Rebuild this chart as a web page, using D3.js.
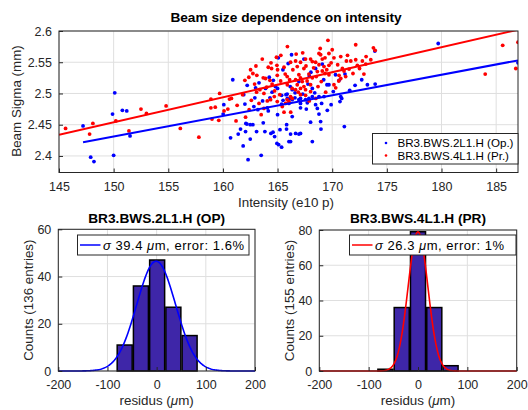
<!DOCTYPE html>
<html><head><meta charset="utf-8">
<script src="https://cdn.jsdelivr.net/npm/d3@7"></script>
<style>
html,body{margin:0;padding:0;background:#fff;}
svg{display:block;font-family:"Liberation Sans",Arial,Helvetica,sans-serif;}
</style></head>
<body><svg id="c" width="528" height="410"></svg>
<script>
// ---------- DATA ----------
const bluePoints = [
[147.2,2.448],[147.9,2.398],[148.2,2.391],[149.9,2.467],[150.1,2.501],[150.0,2.401],[150.8,2.473],[151.2,2.472],[151.5,2.432],
[160.9,2.522],[160.7,2.429],[161.85,2.416],[162.3,2.394],[161.4,2.435],[162.2,2.451],[162.5,2.427],[163.5,2.401],
[165.07,2.557],[165.49,2.538],[162.22,2.513],[162.99,2.509],[164.24,2.526],[164.61,2.521],[163.9,2.508],[165.0,2.508],
[164.5,2.502],[165.37,2.497],[165.89,2.492],[165.77,2.498],[162.92,2.493],[163.63,2.488],[162.83,2.479],[162.01,2.483],
[160.08,2.482],[160.02,2.467],[164.15,2.472],[164.06,2.477],[165.37,2.483],[162.1,2.452],[162.5,2.450],[162.74,2.450],
[163.69,2.453],[161.61,2.443],[163.08,2.439],[163.84,2.439],[162.07,2.439],[164.39,2.436],[164.58,2.438],[164.73,2.431],
[165.22,2.442],[165.83,2.450],[164.94,2.420],[165.1,2.418],[165.37,2.414],[166.04,2.423],
[166.28,2.562],[167.41,2.555],[165.97,2.548],[173.9,2.568],[169.09,2.547],[168.05,2.534],[168.48,2.540],[169.22,2.522],
[169.52,2.514],[169.7,2.514],[171.17,2.531],[172.7,2.522],[173.22,2.514],[173.93,2.515],[172.09,2.513],[170.62,2.521],
[170.78,2.495],[170.87,2.492],[170.71,2.487],[166.16,2.511],[166.95,2.519],[168.18,2.508],[167.78,2.515],[166.34,2.506],
[165.88,2.499],[166.19,2.492],[166.59,2.493],[166.95,2.490],[167.1,2.492],[167.56,2.490],[167.87,2.492],[168.18,2.495],
[168.79,2.495],[169.25,2.495],[166.34,2.490],[166.04,2.484],[167.1,2.484],[167.72,2.485],[168.48,2.482],[168.64,2.476],
[169.03,2.484],[167.63,2.475],[167.1,2.477],[169.55,2.473],[168.79,2.467],[166.34,2.463],[168.02,2.454],[168.94,2.455],
[168.97,2.443],[171.11,2.447],[165.82,2.443],[166.19,2.435],[166.65,2.436],[166.95,2.435],[167.1,2.436],[168.18,2.423],
[166.19,2.423],[179.7,2.580],[187.0,2.549],[163.3,2.517],[164.8,2.511],[166.6,2.501],[167.3,2.499],[165.5,2.489],
[164.3,2.493],[163.2,2.474],[165.0,2.466],[161.9,2.498],[167.9,2.528],[170.1,2.503],[169.9,2.482],[168.4,2.501],
[171.6,2.505],[170.3,2.530]
];
const redPoints = [
[145.6,2.444],[147.8,2.435],[148.1,2.452],[150.2,2.456],[151.4,2.440],[152.5,2.475],[153.0,2.468],[154.8,2.480],
[156.1,2.444],[157.8,2.430],[158.9,2.491],[158.9,2.477],[159.3,2.478],[159.7,2.500],[160.1,2.472],[160.6,2.491],
[162.53,2.538],[163.02,2.544],[162.74,2.532],[162.37,2.526],[162.01,2.521],[164.15,2.542],[164.45,2.540],[164.94,2.545],
[165.0,2.538],[165.59,2.542],[163.69,2.525],[163.9,2.524],[164.3,2.521],[164.5,2.515],[164.97,2.529],[165.28,2.520],
[165.89,2.514],[163.38,2.506],[163.08,2.502],[163.75,2.500],[164.73,2.504],[164.06,2.488],[164.36,2.490],[164.97,2.487],
[165.43,2.479],[165.59,2.470],[163.5,2.466],[162.07,2.462],[163.75,2.476],[160.78,2.492],[160.45,2.475],[159.0,2.459],
[159.62,2.457],
[169.61,2.585],[172.15,2.578],[173.77,2.573],[173.93,2.569],[168.79,2.564],[168.94,2.562],[169.7,2.564],[168.18,2.551],
[168.48,2.550],[169.09,2.555],[169.34,2.557],[170.16,2.557],[170.78,2.559],[166.65,2.552],[167.1,2.550],[167.56,2.555],
[168.02,2.555],[166.19,2.550],[171.3,2.552],[171.7,2.552],[172.15,2.554],[172.76,2.552],[173.53,2.554],[168.79,2.546],
[169.25,2.543],[169.7,2.545],[166.8,2.543],[167.41,2.540],[168.64,2.535],[169.09,2.536],[169.34,2.532],[169.7,2.530],
[170.93,2.540],[171.08,2.536],[171.54,2.539],[172.3,2.545],[173.07,2.547],[167.87,2.531],[168.18,2.525],[168.54,2.527],
[166.95,2.530],[167.1,2.525],[166.65,2.522],[167.26,2.519],[165.88,2.527],[166.1,2.522],[170.62,2.529],[170.78,2.524],
[171.23,2.527],[170.16,2.514],[170.32,2.509],[166.8,2.514],[167.1,2.508],[167.41,2.511],[166.34,2.508],[166.65,2.506],
[168.02,2.514],[167.56,2.506],[168.02,2.503],[167.1,2.498],[169.4,2.502],[166.19,2.495],[166.34,2.492],[165.88,2.490],
[166.04,2.487],[165.73,2.484],[167.56,2.497],[185.6,2.577],[187.0,2.582],[184.0,2.531],[186.8,2.540],
[163.6,2.555],[164.4,2.549],[165.3,2.561],[162.9,2.515],[164.0,2.510],[165.7,2.531],[166.4,2.538],[167.6,2.544],
[168.3,2.541],[169.9,2.549],[170.5,2.546],[171.9,2.532],[169.0,2.519],[168.7,2.511],[167.7,2.520],[166.9,2.502],
[165.2,2.498],[164.7,2.495],[163.3,2.484],[162.6,2.489],[161.8,2.498],[161.3,2.481],[171.4,2.561],[170.0,2.570],
[167.3,2.565],[165.9,2.575],[166.7,2.563],[168.9,2.572],[164.9,2.558],[163.1,2.529],[169.5,2.538],[170.6,2.520],
[172.5,2.540],[173.1,2.559],[172.9,2.531],[166.2,2.470],[167.9,2.488],[162.4,2.474],[161.2,2.456],[168.5,2.492]
];
const blueFit = [[147.2,2.422],[187.0,2.553]];
const redFit = [[145.0,2.434],[187.0,2.602]];
const scatterXTicks = [145,150,155,160,165,170,175,180,185];
const scatterYTicks = [2.4,2.45,2.5,2.55,2.6];
const seriesNames = ["BR3.BWS.2L1.H (Op.)","BR3.BWS.4L1.H (Pr.)"];

const histLeftCenters = [-65,-32,1,34,67];
const histLeftCounts = [11,36,47,27,15];
const histRightCenters = [-66,-33,0,33,66];
const histRightCounts = [1,36,79,36,3];
const histXTicks = [-200,-100,0,100,200];
const histLeftYTicks = [0,20,40,60];
const histRightYTicks = [0,20,40,60,80];
const gaussLeft = {amp:46.5, mu:-1, sigma:39.4};
const gaussRight = {amp:79, mu:0, sigma:20};

// ---------- STYLE ----------
const AX = "#262626", GRID = "#dfdfdf", BAR = "rgb(62,38,168)";
const TICK_FS = "12.5px", LABEL_FS = "13.4px", TITLE_FS = "13.7px";
const svg = d3.select("#c");

function frame(g, x, y, xt, yt){
  const [x0,x1] = x.range(), [y0,y1] = y.range();
  g.append("g").selectAll("line").data(xt).join("line")
    .attr("x1",d=>x(d)).attr("x2",d=>x(d)).attr("y1",y1).attr("y2",y0)
    .attr("stroke",GRID).attr("stroke-width",1);
  g.append("g").selectAll("line").data(yt).join("line")
    .attr("y1",d=>y(d)).attr("y2",d=>y(d)).attr("x1",x0).attr("x2",x1)
    .attr("stroke",GRID).attr("stroke-width",1);
}
function axesOver(g, x, y, xt, yt, xfmt, yfmt){
  const [x0,x1] = x.range(), [y0,y1] = y.range();
  const tl = 4;
  const ax = d3.axisBottom(x).tickValues(xt).tickSizeInner(-tl).tickSizeOuter(0).tickPadding(8).tickFormat(xfmt);
  const gx = g.append("g").attr("transform",`translate(0,${y0})`).call(ax);
  const ay = d3.axisLeft(y).tickValues(yt).tickSizeInner(-tl).tickSizeOuter(0).tickPadding(7).tickFormat(yfmt);
  const gy = g.append("g").attr("transform",`translate(${x0},0)`).call(ay);
  [gx,gy].forEach(a=>{
    a.select(".domain").remove();
    a.selectAll("line").attr("stroke",AX);
    a.selectAll("text").attr("fill",AX).style("font-size",TICK_FS).style("font-family","Liberation Sans, Arial, sans-serif");
  });
  gx.selectAll("text").attr("dy","0.8em");
  g.append("rect").attr("x",x0).attr("y",y1).attr("width",x1-x0).attr("height",y0-y1)
    .attr("fill","none").attr("stroke",AX).attr("stroke-width",1);
}

// ---------- TOP SCATTER ----------
{
  const x = d3.scaleLinear().domain([145,187]).range([59,518]);
  const y = d3.scaleLinear().domain([2.3735,2.6]).range([172.5,31]);
  const g = svg.append("g");
  frame(g,x,y,scatterXTicks,scatterYTicks);
  svg.append("clipPath").attr("id","cp1").append("rect")
    .attr("x",59).attr("y",31).attr("width",459).attr("height",141.5);
  const pg = g.append("g").attr("clip-path","url(#cp1)");
  pg.append("g").selectAll("circle").data(bluePoints).join("circle")
    .attr("cx",d=>x(d[0])).attr("cy",d=>y(d[1])).attr("r",1.9).attr("fill","#0000ff");
  pg.append("g").selectAll("circle").data(redPoints).join("circle")
    .attr("cx",d=>x(d[0])).attr("cy",d=>y(d[1])).attr("r",1.9).attr("fill","#ff0000");
  const line = d3.line().x(d=>x(d[0])).y(d=>y(d[1]));
  pg.append("path").attr("d",line(blueFit)).attr("stroke","#0000ff").attr("stroke-width",2).attr("fill","none");
  pg.append("path").attr("d",line(redFit)).attr("stroke","#ff0000").attr("stroke-width",2).attr("fill","none");
  axesOver(g,x,y,scatterXTicks,scatterYTicks,d3.format("d"),d=>String(+d.toFixed(2)));
  svg.append("text").attr("x",286).attr("y",22).attr("text-anchor","middle")
    .style("font-weight","bold").style("font-size",TITLE_FS).attr("fill","#000")
    .text("Beam size dependence on intensity");
  svg.append("text").attr("x",286).attr("y",207).attr("text-anchor","middle")
    .style("font-size",LABEL_FS).attr("fill",AX).text("Intensity (e10 p)");
  svg.append("text").attr("transform","translate(21,101) rotate(-90)").attr("text-anchor","middle")
    .style("font-size",LABEL_FS).attr("fill",AX).text("Beam Sigma (mm)");
  const lg = svg.append("g");
  lg.append("rect").attr("x",372.5).attr("y",133.5).attr("width",145.5).attr("height",30.5)
    .attr("fill","#fff").attr("stroke",AX).attr("stroke-width",1);
  const cols = ["#0000ff","#ff0000"];
  seriesNames.forEach((n,i)=>{
    const yy = 143 + i*12.5;
    lg.append("circle").attr("cx",386).attr("cy",yy).attr("r",1.3).attr("fill",cols[i]);
    lg.append("text").attr("x",397.5).attr("y",yy+4).style("font-size","11.6px").attr("fill","#000").text(n);
  });
}

// ---------- HISTOGRAMS ----------
function hist(opts){
  const {x0,x1,yTop,yBot,centers,counts,yDomMax,yTicks,gauss,color,title,ylabel,leg,legText} = opts;
  const x = d3.scaleLinear().domain([-200,200]).range([x0,x1]);
  const y = d3.scaleLinear().domain([0,yDomMax]).range([yBot,yTop]);
  const g = svg.append("g");
  frame(g,x,y,histXTicks,yTicks);
  const bw = 30.5;
  g.append("g").selectAll("rect").data(centers.map((c,i)=>[c,counts[i]])).join("rect")
    .attr("x",d=>x(d[0]-bw/2)).attr("width",d=>x(d[0]+bw/2)-x(d[0]-bw/2))
    .attr("y",d=>y(d[1])).attr("height",d=>y(0)-y(d[1]))
    .attr("fill",BAR).attr("stroke","#000").attr("stroke-width",1.5);
  const xs = d3.range(-200,200.5,2);
  const curve = d3.line().x(d=>x(d)).y(d=>y(gauss.amp*Math.exp(-0.5*Math.pow((d-gauss.mu)/gauss.sigma,2))));
  g.append("path").attr("d",curve(xs)).attr("stroke",color).attr("stroke-width",1.6).attr("fill","none");
  axesOver(g,x,y,histXTicks,yTicks,d=>String(d),d=>String(d));
  svg.append("text").attr("x",(x0+x1)/2).attr("y",223).attr("text-anchor","middle")
    .style("font-weight","bold").style("font-size",TITLE_FS).attr("fill","#000").text(title);
  svg.append("text").attr("x",(x0+x1)/2).attr("y",405).attr("text-anchor","middle")
    .style("font-size",LABEL_FS).attr("fill",AX)
    .call(t=>{t.append("tspan").text("residus (");t.append("tspan").style("font-style","italic").text("μ");t.append("tspan").text("m)");});
  svg.append("text").attr("transform",`translate(${x0-25},${(yTop+yBot)/2}) rotate(-90)`).attr("text-anchor","middle")
    .style("font-size",LABEL_FS).attr("fill",AX).text(ylabel);
  const lg = svg.append("g");
  lg.append("rect").attr("x",leg.x).attr("y",leg.y).attr("width",leg.w).attr("height",20)
    .attr("fill","#fff").attr("stroke",AX).attr("stroke-width",1);
  lg.append("line").attr("x1",leg.x+2.5).attr("x2",leg.x+23).attr("y1",leg.y+10).attr("y2",leg.y+10)
    .attr("stroke",color).attr("stroke-width",1.5);
  const t = lg.append("text").attr("x",leg.x+25.5).attr("y",leg.y+14.5).style("font-size","13px").attr("fill","#000")
    .attr("textLength",leg.tl).attr("lengthAdjust","spacing");
  t.append("tspan").style("font-style","italic").text("σ");
  t.append("tspan").text(" "+legText[0]+" ");
  t.append("tspan").style("font-style","italic").text("μ");
  t.append("tspan").text("m, error: "+legText[1]);
}
hist({x0:58.3,x1:255,yTop:229.3,yBot:371,centers:histLeftCenters,counts:histLeftCounts,yDomMax:60,
  yTicks:histLeftYTicks,gauss:gaussLeft,color:"#0000ff",title:"BR3.BWS.2L1.H (OP)",ylabel:"Counts (136 entries)",
  leg:{x:77.5,y:235,w:171.5,tl:141},legText:["39.4","1.6%"]});
hist({x0:319.3,x1:516.7,yTop:230,yBot:371,centers:histRightCenters,counts:histRightCounts,yDomMax:80,
  yTicks:histRightYTicks,gauss:gaussRight,color:"#ff0000",title:"BR3.BWS.4L1.H (PR)",ylabel:"Counts (155 entries)",
  leg:{x:349.5,y:235,w:166.5,tl:129},legText:["26.3","1%"]});
</script></body></html>
